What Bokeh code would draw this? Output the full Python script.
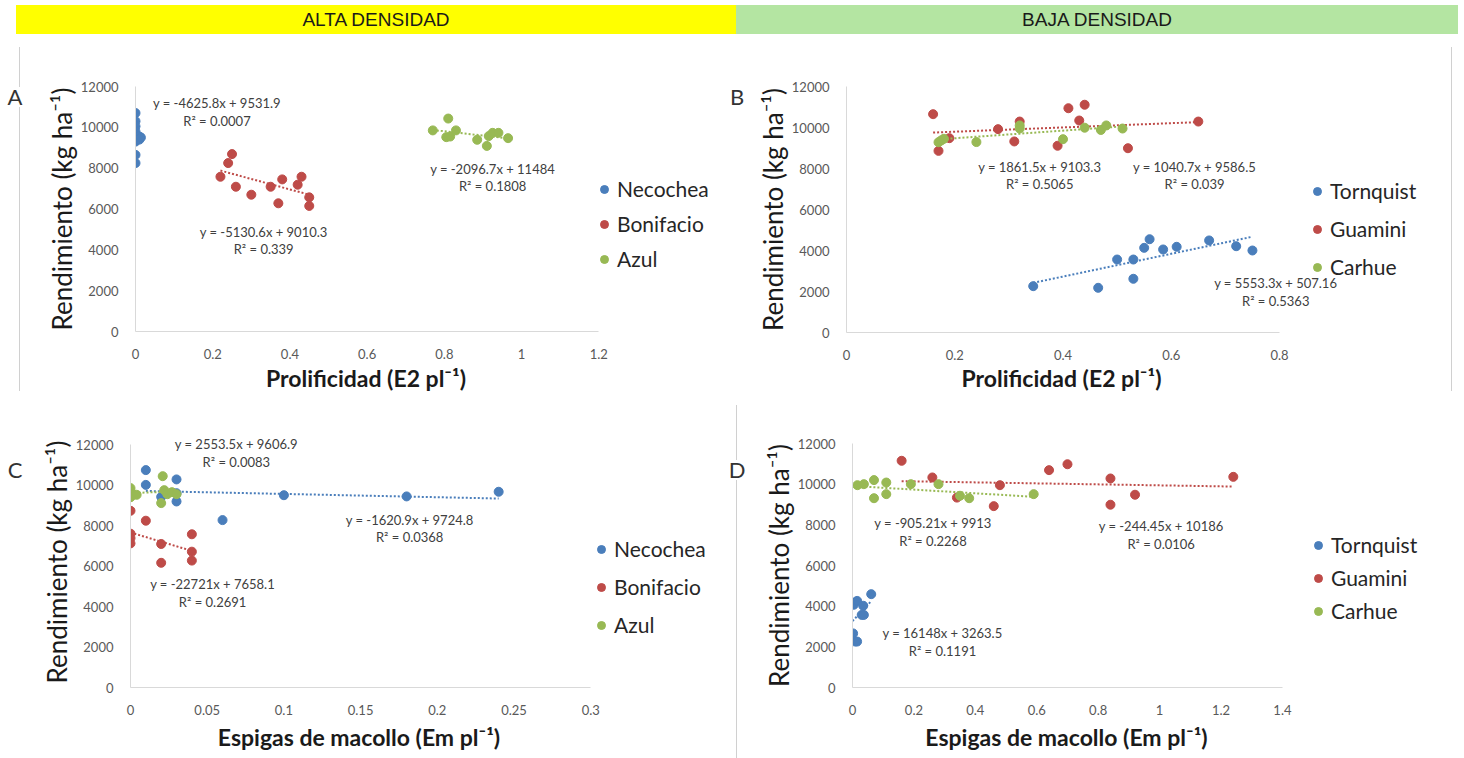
from bokeh.plotting import figure
from bokeh.models import Legend, LegendItem, Label, Div, Spacer, Range1d, FixedTicker
from bokeh.layouts import column, row
from bokeh.embed import file_html
from bokeh.resources import INLINE

BLUE = "#4a7ebb"
RED = "#be4b48"
GREEN = "#98b954"
FONT = "Lato"
BORDER = "1px solid #d0d0d0"

# ---------------- data ----------------
y_ticks = [0, 2000, 4000, 6000, 8000, 10000, 12000]

# Panel A: Alta densidad, prolificidad
a_x_ticks = [0, 0.2, 0.4, 0.6, 0.8, 1, 1.2]
a_x_labels = ["0", "0.2", "0.4", "0.6", "0.8", "1", "1.2"]
a_names = ["Necochea", "Bonifacio", "Azul"]
a_nec_x = [0, 0, 0, 0, 0, 0, 0, 0, 0, 0.01, 0.01, 0.014]
a_nec_y = [10700, 10300, 10050, 9800, 9650, 9500, 9300, 8650, 8250, 9550, 9400, 9500]
a_bon_x = [0.22, 0.24, 0.25, 0.26, 0.30, 0.35, 0.37, 0.38, 0.42, 0.43, 0.45, 0.45]
a_bon_y = [7580, 8250, 8690, 7090, 6700, 7090, 6280, 7450, 7190, 7580, 6570, 6150]
a_azu_x = [0.77, 0.81, 0.805, 0.815, 0.83, 0.885, 0.91, 0.915, 0.925, 0.94, 0.965]
a_azu_y = [9850, 10430, 9520, 9550, 9850, 9390, 9090, 9570, 9730, 9730, 9470]
a_slopes = [-4625.8, -5130.6, -2096.7]
a_inters = [9531.9, 9010.3, 11484]
a_eq = ["y = -4625.8x + 9531.9", "R² = 0.0007",
        "y = -5130.6x + 9010.3", "R² = 0.339",
        "y = -2096.7x + 11484", "R² = 0.1808"]
a_eq_x = [0.211, 0.211, 0.332, 0.332, 0.925, 0.925]
a_eq_y = [11170, 10300, 4850, 4020, 7970, 7120]

# Panel B: Baja densidad, prolificidad
b_x_ticks = [0, 0.2, 0.4, 0.6, 0.8]
b_x_labels = ["0", "0.2", "0.4", "0.6", "0.8"]
b_names = ["Tornquist", "Guamini", "Carhue"]
b_tor_x = [0.345, 0.465, 0.50, 0.53, 0.53, 0.55, 0.56, 0.585, 0.61, 0.67, 0.72, 0.75]
b_tor_y = [2260, 2180, 3560, 3560, 2620, 4130, 4550, 4050, 4180, 4490, 4210, 4000]
b_gua_x = [0.16, 0.17, 0.19, 0.28, 0.31, 0.32, 0.39, 0.41, 0.43, 0.44, 0.52, 0.65]
b_gua_y = [10650, 8860, 9480, 9920, 9320, 10290, 9110, 10940, 10340, 11110, 8990, 10290]
b_car_x = [0.17, 0.175, 0.18, 0.24, 0.32, 0.32, 0.40, 0.44, 0.47, 0.48, 0.51]
b_car_y = [9280, 9370, 9450, 9290, 10100, 9950, 9430, 9990, 9880, 10100, 9950]
b_slopes = [5553.3, 1040.7, 1861.5]
b_inters = [507.16, 9586.5, 9103.3]
b_eq = ["y = 1861.5x + 9103.3", "R² = 0.5065",
        "y = 1040.7x + 9586.5", "R² = 0.039",
        "y = 5553.3x + 507.16", "R² = 0.5363"]
b_eq_x = [0.357, 0.357, 0.643, 0.643, 0.793, 0.793]
b_eq_y = [8060, 7220, 8060, 7220, 2400, 1560]

# Panel C: Alta densidad, espigas de macollo
c_x_ticks = [0, 0.05, 0.1, 0.15, 0.2, 0.25, 0.3]
c_x_labels = ["0", "0.05", "0.1", "0.15", "0.2", "0.25", "0.3"]
c_nec_x = [0.01, 0.01, 0.02, 0.03, 0.03, 0.03, 0.06, 0.10, 0.18, 0.24]
c_nec_y = [10740, 10010, 9420, 10280, 9600, 9190, 8270, 9500, 9440, 9670]
c_bon_x = [0, 0, 0, 0, 0.01, 0.02, 0.02, 0.04, 0.04, 0.04]
c_bon_y = [8730, 7600, 7380, 7120, 8240, 7090, 6160, 7570, 6710, 6270]
c_azu_x = [0, 0, 0, 0, 0.004, 0.02, 0.021, 0.022, 0.024, 0.027, 0.03]
c_azu_y = [9850, 9700, 9550, 9400, 9520, 9110, 10440, 9750, 9550, 9650, 9550]
c_slopes = [-1620.9, -22721, 2553.5]
c_inters = [9724.8, 7658.1, 9606.9]
c_eq = ["y = 2553.5x + 9606.9", "R² = 0.0083",
        "y = -22721x + 7658.1", "R² = 0.2691",
        "y = -1620.9x + 9724.8", "R² = 0.0368"]
c_eq_x = [0.069, 0.069, 0.0535, 0.0535, 0.182, 0.182]
c_eq_y = [12020, 11150, 5095, 4230, 8290, 7450]

# Panel D: Baja densidad, espigas de macollo
d_x_ticks = [0, 0.2, 0.4, 0.6, 0.8, 1, 1.2, 1.4]
d_x_labels = ["0", "0.2", "0.4", "0.6", "0.8", "1", "1.2", "1.4"]
d_tor_x = [0, 0.004, 0.015, 0.035, 0.03, 0.037, 0.061, 0.002, 0.009, 0.015]
d_tor_y = [4180, 4070, 4260, 4020, 3570, 3570, 4590, 2660, 2260, 2260]
d_gua_x = [0.16, 0.26, 0.34, 0.46, 0.48, 0.64, 0.70, 0.84, 0.84, 0.92, 1.24]
d_gua_y = [11150, 10330, 9340, 8920, 9950, 10690, 10980, 10280, 8990, 9480, 10360]
d_car_x = [0.016, 0.037, 0.07, 0.07, 0.11, 0.11, 0.19, 0.28, 0.35, 0.38, 0.59]
d_car_y = [9950, 10000, 10200, 9310, 10080, 9510, 10000, 10000, 9430, 9310, 9510]
d_slopes = [16148, -244.45, -905.21]
d_inters = [3263.5, 10186, 9913]
d_eq = ["y = -905.21x + 9913", "R² = 0.2268",
        "y = -244.45x + 10186", "R² = 0.0106",
        "y = 16148x + 3263.5", "R² = 0.1191"]
d_eq_x = [0.262, 0.262, 1.005, 1.005, 0.293, 0.293]
d_eq_y = [8066, 7215, 7938, 7067, 2656, 1805]

COLORS = [BLUE, RED, GREEN]


def make_panel(width, height, borders, x_end, px_per_x, y_view_end, x_ticks, x_labels,
               names, xs, ys, slopes, inters, eq_txt, eq_x, eq_y, legend_loc,
               legend_spacing):
    left, right, top, bottom = borders
    frame_w = width - left - right
    p = figure(width=width, height=height, output_backend="svg", toolbar_location=None,
               x_range=Range1d(0, frame_w / px_per_x), y_range=Range1d(0, y_view_end),
               min_border_left=left, min_border_right=right,
               min_border_top=top, min_border_bottom=bottom)
    p.outline_line_color = None
    p.grid.grid_line_color = None
    p.background_fill_color = "white"
    p.border_fill_color = "white"
    for ax in (p.xaxis, p.yaxis):
        ax.axis_line_color = "#d9d9d9"
        ax.major_tick_line_color = None
        ax.minor_tick_line_color = None
        ax.major_label_text_font = FONT
        ax.major_label_text_font_size = "13px"
        ax.major_label_text_color = "#595959"
        ax.major_label_standoff = 11
    p.xaxis.ticker = FixedTicker(ticks=x_ticks)
    p.xaxis.major_label_overrides = {t: l for t, l in zip(x_ticks, x_labels)}
    p.xaxis.bounds = (0, x_end)
    p.yaxis.ticker = FixedTicker(ticks=y_ticks)
    p.yaxis.bounds = (0, 12000)
    p.yaxis.axis_label = "Rendimiento (kg ha⁻¹)"
    p.yaxis.axis_label_text_font = FONT
    p.yaxis.axis_label_text_font_size = "26px"
    p.yaxis.axis_label_text_font_style = "normal"
    p.yaxis.axis_label_text_color = "#1a1a1a"
    p.yaxis.axis_label_standoff = 0

    items = []
    for name, col, x, y, m, b in zip(names, COLORS, xs, ys, slopes, inters):
        x0, x1 = min(x), max(x)
        p.line([x0, x1], [m * x0 + b, m * x1 + b], line_color=col, line_width=2,
               line_dash="2 2")
        r = p.scatter(x, y, size=9, fill_color=col, line_color=col)
        items.append(LegendItem(label=name, renderers=[r]))
    for t, tx, ty in zip(eq_txt, eq_x, eq_y):
        p.add_layout(Label(x=tx, y=ty, text=t, text_font=FONT, text_font_size="13px",
                           text_color="#404040", text_align="center",
                           text_baseline="middle"))
    leg = Legend(items=items, location=legend_loc, spacing=legend_spacing,
                 glyph_width=20, glyph_height=20, label_height=20, label_standoff=3,
                 label_text_font=FONT, label_text_font_size="21px",
                 label_text_color="#262626", border_line_color=None,
                 background_fill_alpha=0, padding=0, margin=0)
    p.add_layout(leg)
    return p


def vline(width, height, side):
    return Div(text="", width=width, height=height, margin=0,
               styles={"border-" + side: BORDER})


def letter_div(text):
    return Div(text=text, width=30, height=20, margin=0,
               styles={"text-align": "center", "line-height": "20px", "font-family": FONT,
                       "font-size": "22px", "color": "#333333", "background": "white"})


def letter_col(text, top, line_w=None, line_top=0, line_bottom=0):
    if line_w is None:
        return column(Spacer(width=30, height=top), letter_div(text))
    return column(Spacer(width=30, height=line_top),
                  vline(line_w, top - line_top, "right"),
                  letter_div(text),
                  vline(line_w, line_bottom, "right"))


def xtitle(text, width):
    return Div(text=text, width=width, height=26, margin=0,
               styles={"text-align": "center", "line-height": "26px", "font-family": FONT,
                       "font-size": "23px", "font-weight": "bold", "color": "#1a1a1a",
                       "white-space": "nowrap"})


pA = make_panel(692, 325, (105, 2, 46, 34), 1.2, 386.1, 12000, a_x_ticks, a_x_labels,
                a_names, [a_nec_x, a_bon_x, a_azu_x], [a_nec_y, a_bon_y, a_azu_y],
                a_slopes, a_inters, a_eq, a_eq_x, a_eq_y, (459, 60), 10)
pB = make_panel(699, 325, (94, 2, 46, 33), 0.8, 541.25, 12000, b_x_ticks, b_x_labels,
                b_names, [b_tor_x, b_gua_x, b_car_x], [b_tor_y, b_gua_y, b_car_y],
                b_slopes, b_inters, b_eq, b_eq_x, b_eq_y, (461, 53), 13)
pC = make_panel(692, 324, (100, 2, 36, 37), 0.3, 1534.0, 12400, c_x_ticks, c_x_labels,
                a_names, [c_nec_x, c_bon_x, c_azu_x], [c_nec_y, c_bon_y, c_azu_y],
                c_slopes, c_inters, c_eq, c_eq_x, c_eq_y, (461, 50), 13)
pD = make_panel(712, 324, (100, 2, 43, 37), 1.4, 307.1, 12000, d_x_ticks, d_x_labels,
                b_names, [d_tor_x, d_gua_x, d_car_x], [d_tor_y, d_gua_y, d_car_y],
                d_slopes, d_inters, d_eq, d_eq_x, d_eq_y, (456, 64), 8)

colA = column(pA, xtitle("Prolificidad (E2 pl⁻¹)", 672))
colB = column(pB, xtitle("Prolificidad (E2 pl⁻¹)", 619))
colC = column(pC, xtitle("Espigas de macollo (Em pl⁻¹)", 658))
colD = column(pD, xtitle("Espigas de macollo (Em pl⁻¹)", 629))

right_line = column(Spacer(width=13, height=7), vline(13, 344, "left"))

hdr_style = {"text-align": "center", "line-height": "29px",
             "font-family": "Liberation Sans, Arial", "font-size": "19px",
             "color": "#1a1a1a"}
div_a = Div(text="ALTA DENSIDAD", width=720, height=29, margin=0,
            styles=dict(hdr_style, **{"background-color": "#ffff00"}))
div_b = Div(text="BAJA DENSIDAD", width=722, height=29, margin=0,
            styles=dict(hdr_style, **{"background-color": "#b4e5a2"}))

layout = column(Spacer(width=10, height=5),
                row(Spacer(width=16, height=29), div_a, div_b),
                Spacer(width=10, height=6),
                row(letter_col("A", 47, 20, 7, 284), colA, letter_col("B", 47), colB,
                    right_line),
                Spacer(width=10, height=9),
                row(letter_col("C", 60), colC, letter_col("D", 60, 15, 5, 278), colD))

open("out.html", "w").write(file_html(layout, INLINE))
